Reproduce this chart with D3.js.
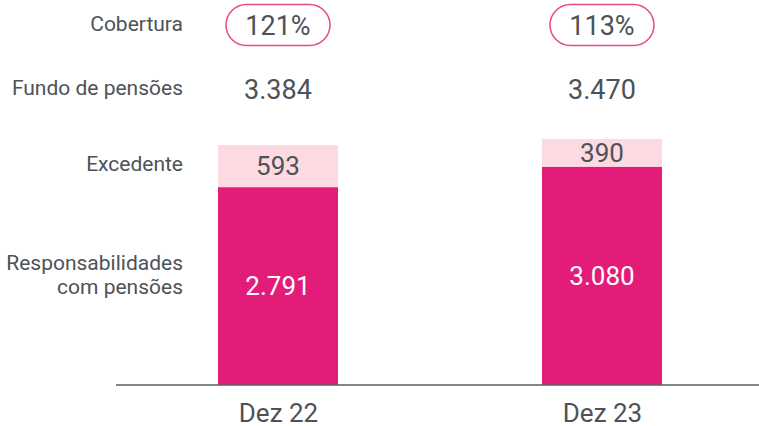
<!DOCTYPE html>
<html>
<head>
<meta charset="utf-8">
<script src="https://cdn.jsdelivr.net/npm/d3@7"></script>
<style>
  html, body { margin: 0; padding: 0; background: #fff; }
  svg { display: block; font-family: Roboto, "Noto Sans", sans-serif; }
</style>
</head>
<body>
<svg id="chart" width="759" height="426"></svg>
<script>
const categories = ["Dez 22", "Dez 23"];
const responsabilidades = [2791, 3080];
const excedente = [593, 390];
const fundo = ["3.384", "3.470"];
const cobertura = ["121%", "113%"];
const respLabels = ["2.791", "3.080"];
const excLabels = ["593", "390"];
const rowLabels = ["Cobertura", "Fundo de pensões", "Excedente", ["Responsabilidades", "com pensões"]];

const W = 759, H = 426;
const svg = d3.select("#chart");
const textColor = "#4d5258";
const dark = "#e31c79";
const light = "#fdd9e1";

const baseY = 385;
const x = d3.scalePoint().domain(categories).range([278, 602]);
const barW = 120;
const y = d3.scaleLinear().domain([0, 3470]).range([baseY, 139]);

// bars
const g = svg.append("g");
categories.forEach((c, i) => {
  const cx = x(c);
  const r = responsabilidades[i], e = excedente[i];
  g.append("rect").attr("x", cx - barW / 2).attr("width", barW)
    .attr("y", y(r)).attr("height", y(0) - y(r)).attr("fill", dark);
  g.append("rect").attr("x", cx - barW / 2).attr("width", barW)
    .attr("y", y(r + e)).attr("height", y(r) - y(r + e)).attr("fill", light);
  // value labels
  g.append("text").attr("x", cx).attr("y", (y(0) + y(r)) / 2)
    .attr("dy", "0.36em").attr("text-anchor", "middle")
    .attr("font-size", 26).attr("fill", "#fff").text(respLabels[i]);
  g.append("text").attr("x", cx).attr("y", (y(r) + y(r + e)) / 2)
    .attr("dy", "0.36em").attr("text-anchor", "middle")
    .attr("font-size", 26).attr("fill", textColor).text(excLabels[i]);
  // fundo
  g.append("text").attr("x", cx).attr("y", 99)
    .attr("text-anchor", "middle").attr("font-size", 27)
    .attr("fill", textColor).text(fundo[i]);
  // cobertura pill
  g.append("rect").attr("x", cx - 52).attr("y", 4.5).attr("width", 104).attr("height", 41)
    .attr("rx", 20.5).attr("fill", "#fff").attr("stroke", "#e8498a").attr("stroke-width", 1.5);
  g.append("text").attr("x", cx).attr("y", 35)
    .attr("text-anchor", "middle").attr("font-size", 27)
    .attr("fill", textColor).text(cobertura[i]);
});

// baseline axis
const xAxis = d3.axisBottom(x).tickSize(0).tickPadding(0);
const ax = svg.append("g").attr("transform", `translate(0,${baseY})`).call(xAxis);
ax.select(".domain").remove();
ax.append("line").attr("x1", 116).attr("x2", 759).attr("y1", 0).attr("y2", 0)
  .attr("stroke", "#5b6168").attr("stroke-width", 1.5);
ax.selectAll(".tick text").attr("font-size", 26).attr("fill", textColor)
  .attr("font-family", "Roboto, sans-serif").attr("dy", null).attr("y", 36.5);

// row labels
const labelX = 183;
const labelY = [31, 94.5, 170.5, 269.5];
rowLabels.forEach((l, i) => {
  const t = svg.append("text").attr("x", labelX).attr("y", labelY[i])
    .attr("text-anchor", "end").attr("font-size", 21).attr("fill", textColor);
  if (Array.isArray(l)) {
    l.forEach((s, j) => t.append("tspan").attr("x", labelX).attr("dy", j === 0 ? 0 : 24).text(s));
  } else t.text(l);
});
</script>
</body>
</html>
